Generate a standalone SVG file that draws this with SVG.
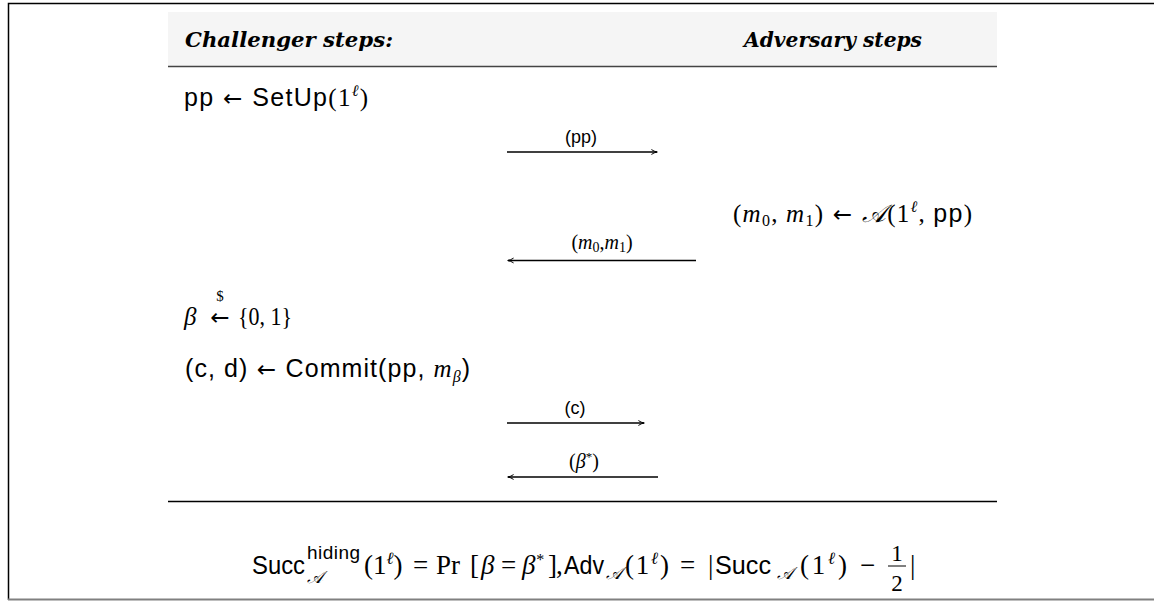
<svg xmlns="http://www.w3.org/2000/svg" width="1154" height="601" viewBox="0 0 1154 601">
<style>
.hdr{font-family:"DejaVu Serif",serif;font-weight:bold;font-style:italic;font-size:20px;fill:#000}
.t{font-family:"Liberation Sans",sans-serif;font-size:25px;fill:#000}
.m{font-family:"Liberation Serif",serif;font-size:27px;fill:#000}
.s{font-family:"Liberation Serif",serif}
.i{font-family:"Liberation Serif",serif;font-style:italic}
.ar{font-family:"DejaVu Sans",sans-serif;font-size:23px}
.lbl{font-family:"Liberation Sans",sans-serif;font-size:18px;fill:#000}
.msg{stroke:#000;stroke-width:1.3;fill:none}
</style>
<defs>
<marker id="ah" viewBox="0 0 10 10" refX="9" refY="5" markerWidth="7" markerHeight="7" markerUnits="userSpaceOnUse" orient="auto-start-reverse">
<path d="M1,1.5 Q5,4.3 9.5,5 Q5,5.7 1,8.5" fill="none" stroke="#000" stroke-width="1.4"/>
</marker>
</defs>
<rect width="1154" height="601" fill="#fff"/>
<path d="M8.5,600 V3.5 H1154" fill="none" stroke="#000" stroke-width="1.5"/>
<line x1="8" y1="599.5" x2="1154" y2="599.5" stroke="#808080" stroke-width="2"/>
<g id="header">
<rect x="168" y="12" width="829" height="54" fill="#f5f5f5"/>
<line x1="168" y1="66.5" x2="997" y2="66.5" stroke="#444" stroke-width="1.3"/>
<text class="hdr" x="185" y="47" textLength="208" lengthAdjust="spacingAndGlyphs">Challenger steps:</text>
<text class="hdr" x="922" y="47" text-anchor="end" textLength="178" lengthAdjust="spacingAndGlyphs">Adversary steps</text>
</g>
<g id="step-setup">
<text class="t" x="184" y="106" textLength="184" lengthAdjust="spacing">pp<tspan class="ar"> ← </tspan>SetUp<tspan class="s">(1</tspan><tspan class="i" font-size="16" dy="-10">ℓ</tspan><tspan class="s" dy="10">)</tspan></text>
</g>
<g id="step-adv">
<text class="t" x="733" y="222" textLength="239" lengthAdjust="spacing"><tspan class="s">(</tspan><tspan class="i">m</tspan><tspan class="s" font-size="16" dy="4">0</tspan><tspan class="s" dy="-4">, </tspan><tspan class="i">m</tspan><tspan class="s" font-size="16" dy="4">1</tspan><tspan class="s" dy="-4">)</tspan><tspan class="ar"> ← </tspan><tspan class="i">𝒜</tspan><tspan class="s">(1</tspan><tspan class="i" font-size="16" dy="-10">ℓ</tspan><tspan class="s" dy="10">, </tspan>pp<tspan class="s">)</tspan></text>
</g>
<g id="step-beta">
<text class="i" x="184" y="325" font-size="25">β</text>
<text class="ar" x="220" y="325" text-anchor="middle">←</text>
<text class="s" x="220" y="301" font-size="15" text-anchor="middle">$</text>
<text class="m" x="238" y="325" style="font-size:25px" textLength="54" lengthAdjust="spacingAndGlyphs">{0, 1}</text>
</g>
<g id="step-commit">
<text class="t" x="185" y="377" textLength="285" lengthAdjust="spacing">(c, d)<tspan class="ar"> ← </tspan>Commit(pp, <tspan class="i">m</tspan><tspan class="i" font-size="16" dy="5">β</tspan><tspan dy="-5">)</tspan></text>
</g>
<g id="connectors">
<line class="msg" x1="507" y1="152" x2="657" y2="152" marker-end="url(#ah)"/>
<text class="lbl" x="581" y="143" text-anchor="middle">(pp)</text>
<line class="msg" x1="508" y1="260.5" x2="696" y2="260.5" marker-start="url(#ah)"/>
<text class="lbl" x="602" y="249" text-anchor="middle" style="font-size:20px"><tspan class="s">(</tspan><tspan class="i">m</tspan><tspan class="s" font-size="14" dy="3">0</tspan><tspan class="s" dy="-3">,</tspan><tspan class="i">m</tspan><tspan class="s" font-size="14" dy="3">1</tspan><tspan class="s" dy="-3">)</tspan></text>
<line class="msg" x1="507" y1="423" x2="644" y2="423" marker-end="url(#ah)"/>
<text class="lbl" x="575" y="414" text-anchor="middle">(c)</text>
<line class="msg" x1="508" y1="477" x2="658" y2="477" marker-start="url(#ah)"/>
<text class="lbl" x="584" y="468" text-anchor="middle" style="font-size:20px"><tspan class="s">(</tspan><tspan class="i">β</tspan><tspan class="s" font-size="13" dy="-7">*</tspan><tspan class="s" dy="7">)</tspan></text>
</g>
<line x1="168" y1="501.5" x2="997" y2="501.5" stroke="#000" stroke-width="1.3"/>
<g id="formula">
<text class="t" x="252" y="574" textLength="53" lengthAdjust="spacingAndGlyphs">Succ</text>
<text class="t" x="307" y="559" style="font-size:19px" textLength="53" lengthAdjust="spacing">hiding</text>
<text class="i" x="307" y="583" font-size="17">𝒜</text>
<text class="m" x="364" y="574">(1<tspan class="i" font-size="17" dy="-10">ℓ</tspan><tspan dy="10">)</tspan></text>
<text class="m" x="413" y="574">=</text>
<text class="m" x="436" y="574">Pr</text>
<text class="m" x="470" y="574">[</text>
<text class="m i" x="481" y="574">β</text>
<text class="m" x="501" y="574">=</text>
<text class="m i" x="522" y="574">β<tspan class="s" font-size="16" dy="-9">*</tspan></text>
<text class="m" x="548" y="574">]</text>
<text class="m" x="556" y="574">,</text>
<text class="t" x="564" y="574" textLength="40" lengthAdjust="spacingAndGlyphs">Adv</text>
<text class="i" x="606" y="579" font-size="17">𝒜</text>
<text class="m" x="625" y="574" textLength="44" lengthAdjust="spacing">(1<tspan class="i" font-size="17" dy="-10">ℓ</tspan><tspan dy="10">)</tspan></text>
<text class="m" x="680" y="574">=</text>
<text class="m" x="708" y="574">|</text>
<text class="t" x="715" y="574" textLength="56" lengthAdjust="spacingAndGlyphs">Succ</text>
<text class="i" x="777" y="579" font-size="17">𝒜</text>
<text class="m" x="800" y="574" textLength="47" lengthAdjust="spacing">(1<tspan class="i" font-size="17" dy="-10">ℓ</tspan><tspan dy="10">)</tspan></text>
<text class="m" x="860" y="574">−</text>
<text class="m" x="897" y="561" style="font-size:23px" text-anchor="middle">1</text>
<line x1="888" y1="566" x2="906" y2="566" stroke="#000" stroke-width="1"/>
<text class="m" x="897" y="591" style="font-size:23px" text-anchor="middle">2</text>
<text class="m" x="910" y="574">|</text>
</g>
</svg>
